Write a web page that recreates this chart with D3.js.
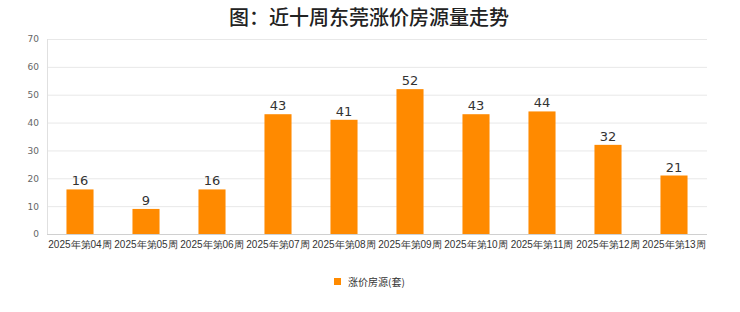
<!DOCTYPE html>
<html><head><meta charset="utf-8">
<script src="https://cdn.jsdelivr.net/npm/d3@7/dist/d3.min.js"></script>
<style>body{margin:0;background:#fff;}svg{display:block;font-family:"Noto Sans CJK SC","DejaVu Sans",sans-serif;}</style>
</head><body><svg id="c" width="740" height="312"></svg>
<script>
const categories = ["2025年第04周","2025年第05周","2025年第06周","2025年第07周","2025年第08周","2025年第09周","2025年第10周","2025年第11周","2025年第12周","2025年第13周"];
const values = [16,9,16,43,41,52,43,44,32,21];
const yTicks = [0,10,20,30,40,50,60,70];
const seriesName = "涨价房源(套)";
const title = "图：近十周东莞涨价房源量走势";

const svg = d3.select("#c");
const m = {l:47, r:707, t:39, b:234};
const x = d3.scaleBand().domain(categories).range([m.l, m.r]).paddingInner(0.59).paddingOuter(0.295);
const y = d3.scaleLinear().domain([0,70]).range([m.b, m.t]);

svg.append("text").attr("x",369).attr("y",25).attr("text-anchor","middle")
  .attr("font-size",20).attr("font-weight",500).attr("fill","#222").text(title);

// grid
svg.append("g").selectAll("line").data(yTicks).join("line")
  .attr("x1",m.l).attr("x2",m.r).attr("y1",d=>y(d)+0.5).attr("y2",d=>y(d)+0.5)
  .attr("stroke","#e8e8e8").attr("stroke-width",1);
svg.append("line").attr("x1",m.l+0.5).attr("x2",m.l+0.5).attr("y1",m.t).attr("y2",m.b)
  .attr("stroke","#e0e0e0");
svg.append("line").attr("x1",m.l).attr("x2",m.r).attr("y1",m.b+0.5).attr("y2",m.b+0.5)
  .attr("stroke","#d0d0d0");

const ya = d3.axisLeft(y).tickValues(yTicks).tickSize(0).tickPadding(8);
const yg = svg.append("g").attr("transform",`translate(${m.l},0)`).call(ya);
yg.select(".domain").remove();
yg.selectAll("text").attr("font-size",9).attr("fill","#666").attr("font-family","DejaVu Sans, sans-serif");

const xa = d3.axisBottom(x).tickSize(0).tickPadding(7);
const xg = svg.append("g").attr("transform",`translate(0,${m.b})`).call(xa);
xg.select(".domain").remove();
xg.selectAll("text").attr("font-size",10).attr("fill","#333");

svg.append("g").selectAll("rect").data(values).join("rect")
  .attr("x",(d,i)=>x(categories[i])).attr("width",x.bandwidth())
  .attr("y",d=>y(d)).attr("height",d=>y(0)-y(d)).attr("fill","#ff8a00");

svg.append("g").selectAll("text").data(values).join("text")
  .attr("x",(d,i)=>x(categories[i])+x.bandwidth()/2).attr("y",d=>y(d)-4)
  .attr("text-anchor","middle").attr("font-size",13).attr("fill","#333")
  .attr("font-family","DejaVu Sans, sans-serif").text(d=>d);

const lg = svg.append("g").attr("transform","translate(334,278)");
lg.append("rect").attr("width",7).attr("height",7).attr("fill","#ff8a00");
lg.append("text").attr("x",14).attr("y",7.5).attr("font-size",10).attr("fill","#333").text(seriesName);
</script></body></html>
